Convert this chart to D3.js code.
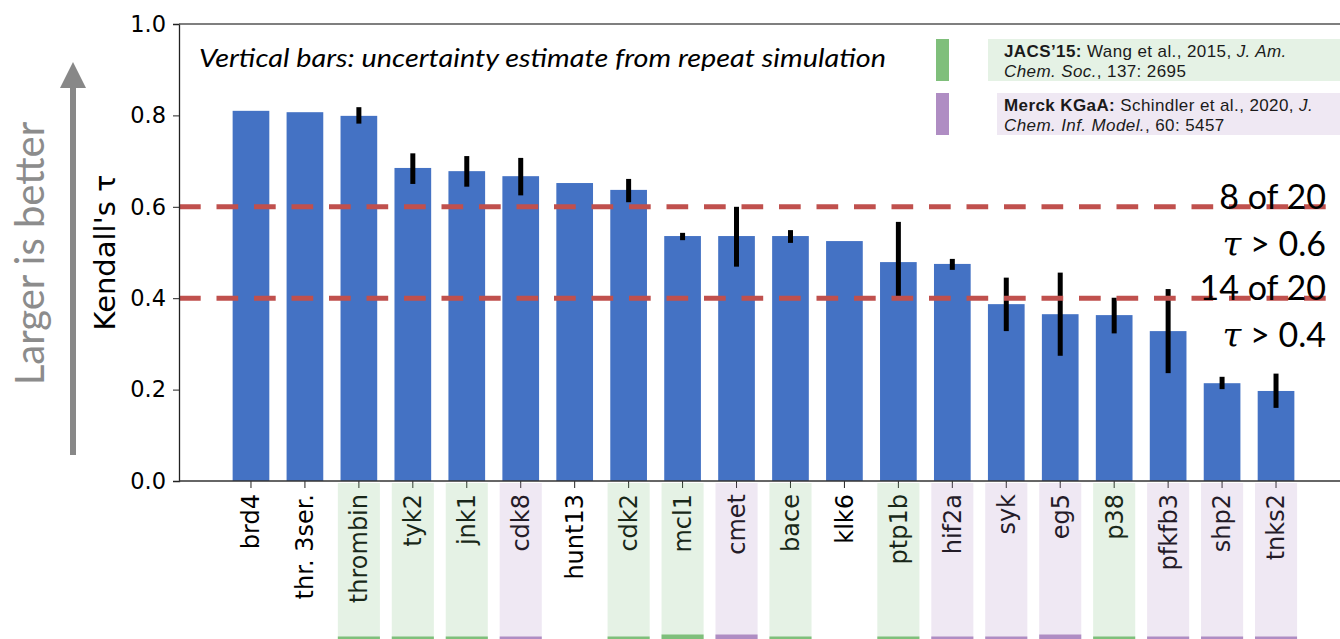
<!DOCTYPE html>
<html>
<head>
<meta charset="utf-8">
<script src="https://cdn.jsdelivr.net/npm/d3@7"></script>
<style>
  body { margin: 0; background: #fff; }
  svg { display: block; }
</style>
</head>
<body>
<div id="chart"></div>
<script>

// ---- data ----
var categories = ["brd4", "thr. 3ser.", "thrombin", "tyk2", "jnk1", "cdk8", "hunt13", "cdk2", "mcl1", "cmet",
                  "bace", "klk6", "ptp1b", "hif2a", "syk", "eg5", "p38", "pfkfb3", "shp2", "tnks2"];
var tau      = [0.810, 0.807, 0.799, 0.685, 0.678, 0.667, 0.652, 0.637, 0.536, 0.536,
                0.536, 0.525, 0.479, 0.475, 0.387, 0.365, 0.363, 0.328, 0.214, 0.197];
var errLow   = [null, null, 0.782, 0.650, 0.644, 0.625, null, 0.610, 0.527, 0.469,
                0.521, null, 0.403, 0.462, 0.328, 0.274, 0.323, 0.236, 0.201, 0.160];
var errHigh  = [null, null, 0.818, 0.717, 0.711, 0.707, null, 0.661, 0.543, 0.600,
                0.549, null, 0.567, 0.486, 0.445, 0.456, 0.401, 0.420, 0.228, 0.235];
var source   = ["", "", "JACS", "JACS", "JACS", "Merck", "", "JACS", "JACS", "Merck",
                "JACS", "", "JACS", "Merck", "Merck", "Merck", "JACS", "Merck", "Merck", "Merck"];
var yTicks = [0, 0.2, 0.4, 0.6, 0.8, 1.0];
var thresholds = [0.6, 0.4];
var thresholdCount = ["8 of 20", "14 of 20"];
var thresholdText = ["> 0.6", "> 0.4"];

var sourceColor = {JACS: "#7fbf7b", Merck: "#af8dc3"};

var W = 1340, H = 639;
var margin = {top: 24, left: 179};
var plotBottom = 481;

var svg = d3.select("#chart").append("svg")
    .attr("width", W)
    .attr("height", H);

var x = d3.scaleBand()
    .domain(categories)
    .range([224, 1303])
    .paddingInner(0.32)
    .paddingOuter(0.16);

var y = d3.scaleLinear()
    .domain([0, 1])
    .range([plotBottom, margin.top]);

var rows = categories.map(function(c, i) {
    return {name: c, tau: tau[i], lo: errLow[i], hi: errHigh[i], src: source[i]};
});

// bars
svg.append("g").selectAll("rect")
    .data(rows)
    .enter().append("rect")
    .attr("x", function(d) { return x(d.name); })
    .attr("y", function(d) { return y(d.tau); })
    .attr("width", x.bandwidth())
    .attr("height", function(d) { return plotBottom - y(d.tau); })
    .attr("fill", "#4472c4");

// error bars
svg.append("g").selectAll("line")
    .data(rows.filter(function(d) { return d.lo != null; }))
    .enter().append("line")
    .attr("x1", function(d) { return x(d.name) + x.bandwidth() / 2; })
    .attr("x2", function(d) { return x(d.name) + x.bandwidth() / 2; })
    .attr("y1", function(d) { return y(d.hi); })
    .attr("y2", function(d) { return y(d.lo); })
    .attr("stroke", "#000")
    .attr("stroke-width", 5);

// threshold lines
svg.append("g").selectAll("line")
    .data(thresholds)
    .enter().append("line")
    .attr("x1", margin.left)
    .attr("x2", W + 10)
    .attr("y1", function(d) { return y(d); })
    .attr("y2", function(d) { return y(d); })
    .attr("stroke", "#c0504d")
    .attr("stroke-width", 5)
    .attr("stroke-dasharray", "21.7,15.8");

// axes
var yAxis = d3.axisLeft(y)
    .tickValues(yTicks)
    .tickFormat(d3.format(".1f"))
    .tickSize(6)
    .tickPadding(7);

var yg = svg.append("g")
    .attr("transform", "translate(" + margin.left + ",0)")
    .call(yAxis);
yg.select(".domain").attr("stroke", "#222").attr("stroke-width", 1.3);
yg.selectAll(".tick line").attr("stroke", "#222");
yg.selectAll("text")
    .style("font-family", "DejaVu Sans")
    .style("font-size", "22.5px")
    .attr("fill", "#000");

var xAxis = d3.axisBottom(x).tickSize(7).tickSizeOuter(0);
var xg = svg.append("g")
    .attr("transform", "translate(0," + plotBottom + ")")
    .call(xAxis);
xg.select(".domain").remove();
xg.selectAll(".tick line").attr("stroke", "#222");
xg.selectAll("text")
    .attr("transform", "rotate(-90)")
    .attr("x", -13)
    .attr("y", 0)
    .attr("dy", "0.35em")
    .style("text-anchor", "end")
    .style("font-family", "DejaVu Sans")
    .style("font-size", "24px")
    .attr("fill", "#000");

// bottom and top spines
svg.append("line")
    .attr("x1", margin.left).attr("x2", W)
    .attr("y1", plotBottom).attr("y2", plotBottom)
    .attr("stroke", "#333").attr("stroke-width", 1.5);
svg.append("line")
    .attr("x1", margin.left).attr("x2", W)
    .attr("y1", margin.top).attr("y2", margin.top)
    .attr("stroke", "#555").attr("stroke-width", 1.5);

// source shading behind the tick labels (drawn on top, translucent)
var shadeW = x.step() * 0.78;
var shaded = rows.filter(function(d) { return d.src != ""; });
svg.append("g").selectAll("rect")
    .data(shaded)
    .enter().append("rect")
    .attr("x", function(d) { return x(d.name) + x.bandwidth() / 2 - shadeW / 2; })
    .attr("y", plotBottom + 2)
    .attr("width", shadeW)
    .attr("height", H - plotBottom - 2)
    .attr("fill", function(d) { return sourceColor[d.src]; })
    .attr("fill-opacity", 0.2);
svg.append("g").selectAll("rect")
    .data(shaded)
    .enter().append("rect")
    .attr("x", function(d) { return x(d.name) + x.bandwidth() / 2 - shadeW / 2; })
    .attr("y", function(d) { return (d.name == "mcl1" || d.name == "cmet" || d.name == "eg5") ? H - 4.5 : H - 2.5; })
    .attr("width", shadeW)
    .attr("height", function(d) { return (d.name == "mcl1" || d.name == "cmet" || d.name == "eg5") ? 4.5 : 2.5; })
    .attr("fill", function(d) { return sourceColor[d.src]; });

// y label
svg.append("text")
    .attr("transform", "translate(115," + (margin.top + plotBottom) / 2 + ") rotate(-90)")
    .style("text-anchor", "middle")
    .style("font-family", "DejaVu Sans")
    .style("font-size", "29px")
    .text("Kendall's \u03c4");

// "larger is better" arrow
svg.append("line")
    .attr("x1", 73).attr("x2", 73)
    .attr("y1", 455).attr("y2", 86)
    .attr("stroke", "#888").attr("stroke-width", 6);
svg.append("path")
    .attr("d", "M60,88 L86,88 L73,62 Z")
    .attr("fill", "#888");
svg.append("text")
    .attr("transform", "translate(44,253.5) rotate(-90)")
    .style("text-anchor", "middle")
    .style("font-family", "Lato")
    .style("font-size", "40px")
    .attr("fill", "#8c8c8c")
    .text("Larger is better");

// note
svg.append("text")
    .attr("x", 199)
    .attr("y", 67)
    .attr("textLength", 687)
    .attr("lengthAdjust", "spacingAndGlyphs")
    .style("font-family", "Lato")
    .style("font-style", "italic")
    .style("font-size", "25px")
    .text("Vertical bars: uncertainty estimate from repeat simulation");

// threshold annotations
var ann = svg.append("g")
    .style("font-family", "Lato")
    .style("font-size", "34px")
    .style("text-anchor", "end");
thresholds.forEach(function(t, i) {
    var base = y(t) + 2;
    ann.append("text")
        .attr("x", 1326)
        .attr("y", base)
        .text(thresholdCount[i]);
    var t2 = ann.append("text")
        .attr("x", 1326)
        .attr("y", base + 47);
    t2.append("tspan")
        .style("font-family", "DejaVu Serif")
        .style("font-style", "italic")
        .text("\u03c4");
    t2.append("tspan").text(" " + thresholdText[i]);
});

// legend
var legend = [
    {src: "JACS", y0: 39, y1: 81, boxX: 988,
     l1: [["JACS\u201915:", "bold"], [" Wang et al., 2015, ", ""], ["J. Am.", "italic"]],
     l2: [["Chem. Soc.", "italic"], [", 137: 2695", ""]]},
    {src: "Merck", y0: 93, y1: 135, boxX: 997,
     l1: [["Merck KGaA:", "bold"], [" Schindler et al., 2020, ", ""], ["J.", "italic"]],
     l2: [["Chem. Inf. Model.", "italic"], [", 60: 5457", ""]]}
];
legend.forEach(function(L) {
    svg.append("rect")
        .attr("x", 936).attr("y", L.y0)
        .attr("width", 13).attr("height", L.y1 - L.y0)
        .attr("fill", sourceColor[L.src]);
    svg.append("rect")
        .attr("x", L.boxX).attr("y", L.y0)
        .attr("width", W - L.boxX).attr("height", L.y1 - L.y0)
        .attr("fill", sourceColor[L.src])
        .attr("fill-opacity", 0.2);
    [L.l1, L.l2].forEach(function(line, k) {
        var t = svg.append("text")
            .attr("x", 1004)
            .attr("y", L.y0 + 18 + k * 20)
            .style("font-family", "Liberation Sans")
            .style("font-size", "17px")
            .style("letter-spacing", "0.4px")
            .attr("fill", "#1a1a1a");
        line.forEach(function(p) {
            var s = t.append("tspan").text(p[0]);
            if (p[1] == "bold") s.style("font-weight", "bold");
            if (p[1] == "italic") s.style("font-style", "italic");
        });
    });
});

</script>
</body>
</html>
